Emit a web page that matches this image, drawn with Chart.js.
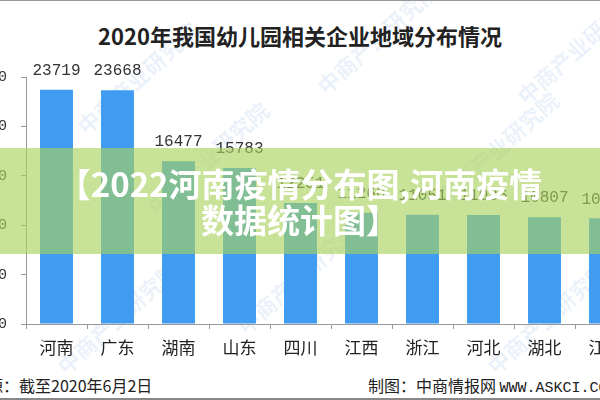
<!doctype html>
<html lang="zh">
  <head>
    <meta charset="UTF-8" />
    <title>2020年我国幼儿园相关企业地域分布情况</title>
    <script src="https://cdn.jsdelivr.net/npm/chart.js"></script>
    <style>
      html, body {
        margin: 0;
        width: 600px;
        height: 400px;
        overflow: hidden;
        background: #fff;
        font-family: "Noto Sans CJK SC", sans-serif;
      }
      #wrap {
        position: relative;
        width: 600px;
        height: 400px;
        overflow: hidden;
        border-top: 1px solid #999;
        border-bottom: 2px solid #888;
        box-sizing: border-box;
      }
      #title {
        position: absolute;
        top: 19px;
        left: 0;
        width: 600px;
        text-align: center;
        font-size: 22px;
        font-weight: bold;
        color: #222;
        line-height: 30px;
      }
      #chart {
        position: absolute;
        left: -45px;
        top: 50px;
      }
      .wm {
        position: absolute;
        font-size: 22px;
        font-weight: bold;
        color: rgba(90, 150, 215, 0.12);
        transform: rotate(-42deg);
        white-space: nowrap;
        pointer-events: none;
      }
      #banner {
        position: absolute;
        top: 147px;
        left: 0;
        width: 600px;
        height: 106px;
        background: rgba(169, 210, 94, 0.64);
        display: flex;
        align-items: center;
        justify-content: center;
        text-align: center;
        color: #fff;
        font-weight: bold;
        font-size: 33px;
        line-height: 36px;
      }
      .foot {
        position: absolute;
        top: 372px;
        font-size: 16px;
        line-height: 24px;
        color: #222;
        white-space: nowrap;
      }
      .mono {
        font-family: "Liberation Mono", monospace;
        font-size: 15px;
      }
    </style>
  </head>
  <body>
    <div id="wrap">
      <div class="wm" style="left: 60px; top: 60px">中商产业研究院</div>
      <div class="wm" style="left: 300px; top: 20px">中商产业研究院</div>
      <div class="wm" style="left: 500px; top: 30px">中商产业研究院</div>
      <div class="wm" style="left: 130px; top: 140px">中商产业研究院</div>
      <div class="wm" style="left: 420px; top: 130px">中商产业研究院</div>
      <div class="wm" style="left: 40px; top: 300px">中商产业研究院</div>
      <div class="wm" style="left: 220px; top: 260px">中商产业研究院</div>
      <div class="wm" style="left: 470px; top: 300px">中商产业研究院</div>

      <div id="title">2020年我国幼儿园相关企业地域分布情况</div>
      <canvas id="chart" width="681" height="310"></canvas>

      <div id="banner">
        <div>【2022河南疫情分布图,河南疫情<br />数据统计图】</div>
      </div>

      <div class="foot" style="left: -61px">数据来源：截至2020年6月2日</div>
      <div class="foot" style="left: 368px">制图：中商情报网 <span class="mono">WWW.ASKCI.COM</span></div>
    </div>

    <script>
      const categories = ["河南", "广东", "湖南", "山东", "四川", "江西", "浙江", "河北", "湖北", "江苏"];
      const counts = [23719, 23668, 16477, 15783, 12251, 11260, 11051, 11036, 10807, 10700];
      const yMin = 0;
      const yMax = 25000;
      const yStep = 5000;

      // numbers on top of each bar
      const valueLabels = {
        id: "valueLabels",
        afterDatasetsDraw(chart) {
          const ctx = chart.ctx;
          const meta = chart.getDatasetMeta(0);
          ctx.save();
          ctx.font = '16px "Liberation Mono", monospace';
          ctx.fillStyle = "#333";
          ctx.textAlign = "center";
          ctx.textBaseline = "bottom";
          meta.data.forEach((bar, i) => {
            ctx.fillText(String(counts[i]), bar.x, bar.y - 11);
          });
          ctx.restore();
        },
      };

      const ctx = document.getElementById("chart").getContext("2d");
      const barChart = new Chart(ctx, {
        type: "bar",
        data: {
          labels: categories,
          datasets: [
            {
              data: counts,
              backgroundColor: "#3f9cf0",
              barPercentage: 0.54,
              categoryPercentage: 1,
            },
          ],
        },
        options: {
          responsive: false,
          animation: false,
          layout: { padding: { top: 26, right: 0, bottom: 0, left: 0 } },
          plugins: {
            legend: { display: false },
            tooltip: { enabled: false },
          },
          scales: {
            x: {
              grid: {
                drawOnChartArea: false,
                offset: true,
                tickLength: 5,
                color: "#999",
              },
              border: { color: "#999" },
              ticks: {
                color: "#222",
                padding: 8,
                font: { size: 17, family: '"Noto Sans CJK SC", sans-serif' },
              },
              afterFit: (scale) => {
                scale.height = 37;
              },
            },
            y: {
              min: yMin,
              max: yMax,
              grid: {
                drawOnChartArea: false,
                tickLength: 5,
                color: "#999",
              },
              border: { color: "#999" },
              ticks: {
                stepSize: yStep,
                color: "#333",
                padding: 14,
                font: { size: 15, family: '"Liberation Mono", monospace' },
              },
              afterFit: (scale) => {
                scale.width = 71;
              },
            },
          },
        },
        plugins: [valueLabels],
      });
    </script>
  </body>
</html>
